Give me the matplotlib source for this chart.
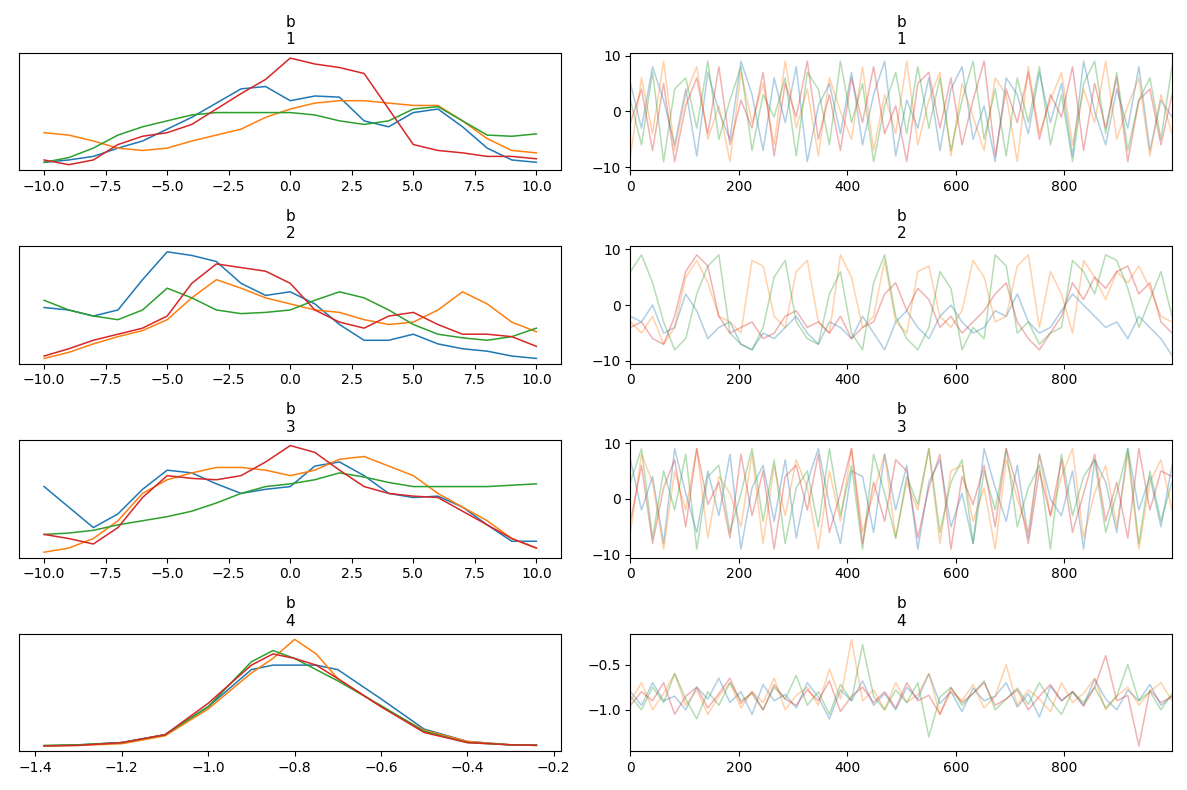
import matplotlib.pyplot as plt
import numpy as np

colors = ['C0', 'C1', 'C2', 'C3']
x_grid = np.arange(-10, 11)  # kde grid for b1..b3
x4 = [-1.38, -1.3, -1.2, -1.1, -1.0, -0.9, -0.85, -0.8, -0.75, -0.7, -0.6, -0.5, -0.4, -0.3, -0.24]

kde1 = [[0.1, 0.12, 0.15, 0.22, 0.28, 0.38, 0.48, 0.6, 0.72, 0.74, 0.62, 0.66, 0.65, 0.45, 0.4, 0.52, 0.55, 0.4, 0.22, 0.12, 0.1],
        [0.35, 0.33, 0.28, 0.22, 0.2, 0.22, 0.28, 0.33, 0.38, 0.48, 0.55, 0.6, 0.62, 0.62, 0.6, 0.58, 0.58, 0.45, 0.3, 0.2, 0.18],
        [0.1, 0.14, 0.22, 0.33, 0.4, 0.45, 0.5, 0.52, 0.52, 0.52, 0.52, 0.5, 0.45, 0.42, 0.45, 0.55, 0.57, 0.45, 0.33, 0.32, 0.34],
        [0.12, 0.08, 0.12, 0.25, 0.32, 0.35, 0.42, 0.55, 0.68, 0.8, 0.98, 0.93, 0.9, 0.85, 0.55, 0.25, 0.2, 0.18, 0.15, 0.15, 0.13]]
kde2 = [[0.52, 0.5, 0.45, 0.5, 0.75, 0.98, 0.95, 0.9, 0.72, 0.62, 0.65, 0.55, 0.38, 0.25, 0.25, 0.3, 0.22, 0.18, 0.16, 0.12, 0.1],
        [0.1, 0.15, 0.22, 0.28, 0.33, 0.42, 0.6, 0.75, 0.68, 0.6, 0.55, 0.5, 0.48, 0.42, 0.38, 0.4, 0.5, 0.65, 0.55, 0.4, 0.32],
        [0.58, 0.5, 0.45, 0.42, 0.5, 0.68, 0.6, 0.5, 0.47, 0.48, 0.5, 0.58, 0.65, 0.6, 0.5, 0.38, 0.3, 0.27, 0.25, 0.28, 0.35],
        [0.12, 0.18, 0.25, 0.3, 0.35, 0.45, 0.72, 0.88, 0.85, 0.82, 0.72, 0.5, 0.4, 0.35, 0.45, 0.48, 0.38, 0.3, 0.3, 0.28, 0.2]]
kde3 = [[0.6, 0.45, 0.3, 0.4, 0.58, 0.72, 0.7, 0.62, 0.55, 0.58, 0.6, 0.75, 0.78, 0.68, 0.55, 0.52, 0.53, 0.45, 0.32, 0.2, 0.2],
        [0.12, 0.15, 0.22, 0.35, 0.55, 0.65, 0.7, 0.74, 0.74, 0.72, 0.68, 0.72, 0.8, 0.82, 0.75, 0.68, 0.55, 0.45, 0.35, 0.22, 0.15],
        [0.25, 0.26, 0.28, 0.32, 0.35, 0.38, 0.42, 0.48, 0.55, 0.6, 0.62, 0.65, 0.7, 0.67, 0.63, 0.6, 0.6, 0.6, 0.6, 0.61, 0.62],
        [0.25, 0.22, 0.18, 0.3, 0.52, 0.68, 0.66, 0.65, 0.68, 0.78, 0.9, 0.85, 0.72, 0.6, 0.55, 0.53, 0.52, 0.42, 0.32, 0.22, 0.15]]
kde4 = [[0, 0.01, 0.03, 0.1, 0.35, 0.68, 0.72, 0.72, 0.72, 0.68, 0.42, 0.15, 0.04, 0.01, 0.01],
        [0, 0.005, 0.02, 0.09, 0.33, 0.65, 0.78, 0.95, 0.82, 0.6, 0.35, 0.14, 0.04, 0.01, 0.005],
        [0.005, 0.01, 0.03, 0.1, 0.35, 0.75, 0.85, 0.78, 0.68, 0.58, 0.36, 0.13, 0.03, 0.01, 0.005],
        [0, 0.005, 0.03, 0.1, 0.38, 0.72, 0.82, 0.78, 0.72, 0.6, 0.35, 0.12, 0.03, 0.01, 0.005]]

trace1 = [[5, -3, 8, 2, -6, 4, -8, 7, 0, -5, 9, 3, -7, 6, -2, 8, -9, 1, 5, -4, 7, -6, 3, 9, -8, 2, -3, 6, -7, 4, 8, -5, 1, -9, 6, 3, -4, 7, -2, 5, -8, 9, 0, -6, 4, -3, 8, -7, 2, -1],
          [-8, 6, -4, 9, -7, 3, 8, -5, 1, -9, 7, -2, 5, -6, 9, -3, 4, -8, 6, 0, -5, 8, -7, 3, -4, 9, -6, 2, 7, -8, 5, -1, -7, 6, 3, -9, 8, -4, 2, 7, -6, 4, -2, 9, -5, 1, 6, -8, 3, -4],
          [2, -6, 7, -9, 4, 6, -3, 9, -5, 2, 8, -7, 3, -1, 6, -8, 7, 4, -6, 9, -2, 5, -9, 1, 7, -4, 8, -3, 6, -7, 2, 9, -5, 4, -8, 6, -2, 8, -6, 3, -9, 5, 9, -4, 7, -7, 2, 6, -5, 8],
          [-2, 4, -7, 5, -9, 1, 6, -4, 8, -6, 2, -3, 7, -8, 5, -1, 9, -5, 3, -7, 6, -2, 8, -4, 1, -9, 5, 7, -3, 6, -6, 2, 9, -8, 4, -2, 7, -5, 3, -1, 8, -7, 5, -3, 6, -9, 2, 4, -6, 3]]
trace2 = [[-2, -3, 0, -5, -4, 2, -1, -6, -4, -3, -7, -8, -5, -6, -4, -2, -5, -7, -3, -4, -6, -2, -5, -8, -3, -1, -4, -6, -2, 0, -3, -5, -4, -1, -2, 2, -3, -5, -4, -1, 2, 0, -2, -4, -3, -6, -2, -4, -6, -9],
          [-3, -5, -2, -7, -4, 5, 8, 4, -2, -3, -5, 8, 7, -2, -4, 6, 8, -3, -5, 9, 5, -4, -2, 8, -3, -5, 6, 7, -2, -4, -1, 8, 5, -3, -2, 7, 9, -4, 6, 2, -5, 8, 5, 1, 6, 4, 7, 3, -2, -3],
          [6, 9, 4, -3, -8, -6, 2, 7, 9, -5, -7, -8, -4, 5, 8, -3, -6, -7, 2, 6, -5, -8, 4, 9, -2, -6, -8, -4, 6, 3, -8, -4, -6, 9, 7, -5, -3, -7, -5, -4, 8, 6, 2, 9, 8, 3, -4, 1, 6, -2],
          [-4, -3, -6, -7, -2, 6, 9, 7, -2, -5, -4, -3, -6, -5, -2, -1, -4, -3, -5, -2, -6, -4, -3, 2, 4, -1, 3, 1, -4, -2, -5, -3, -1, 2, 4, -3, -6, -8, -5, -2, 4, 1, 5, 3, 6, 7, 2, 4, -3, -5]]
trace3 = [[7, -2, 4, -8, 9, 1, -6, 5, -3, 8, -9, 2, 6, -4, 7, -7, 3, 9, -1, -8, 5, 4, -6, 8, -2, 6, -9, 3, 7, -5, 1, -8, 9, 2, -4, 6, -7, 8, 0, -3, 5, -9, 7, 3, -6, 9, -2, 4, -5, 6],
          [-6, 8, 3, -9, 5, -2, 9, -7, 4, 1, -5, 8, -8, 6, -3, 7, 2, -9, 5, -4, 9, -6, 1, 8, -7, 3, -2, 9, -8, 5, 6, -4, 2, -9, 7, 0, -6, 8, -3, 4, 9, -7, 1, 6, -5, 8, -9, 3, 7, -2],
          [3, 9, -7, 5, -2, 8, -9, 4, 6, -6, 1, 9, -4, 7, -8, 2, 5, -5, 9, -3, 6, -9, 8, 1, -7, 4, -1, 9, -6, 3, 7, -8, 5, -2, 9, -5, 2, 6, -9, 8, -3, 4, 7, -6, 1, 9, -8, 5, -4, 3],
          [-4, 6, -8, 2, 7, -5, 9, -1, 3, -7, 8, -3, 5, -9, 4, 6, -2, 8, -6, 1, 9, -8, 3, -4, 7, 5, -7, 2, 8, -9, 4, -1, 6, -5, 9, 2, -8, 5, -3, 7, -6, 1, 8, -4, 3, -7, 9, -2, 5, 4]]
trace4 = [[-0.8, -0.95, -0.7, -0.9, -0.85, -1.0, -0.75, -0.88, -0.65, -0.92, -0.8, -1.05, -0.72, -0.9, -0.83, -0.98, -0.7, -0.86, -1.1, -0.78, -0.9, -0.68, -0.95, -0.82, -1.0, -0.75, -0.88, -0.6, -0.93, -0.8, -1.02, -0.76, -0.9, -0.85, -0.7, -0.97, -0.82, -1.08, -0.74, -0.9, -0.8, -0.95, -0.66, -0.88, -1.0, -0.78, -0.9, -0.72, -0.95, -0.85],
          [-0.9, -0.7, -1.0, -0.82, -0.6, -0.95, -0.78, -1.05, -0.85, -0.7, -0.98, -0.8, -0.92, -0.65, -1.0, -0.84, -0.75, -0.95, -0.55, -0.88, -0.22, -0.9, -0.78, -1.0, -0.7, -0.92, -0.83, -0.6, -1.05, -0.8, -0.9, -0.72, -0.98, -0.85, -0.5, -0.95, -0.78, -0.88, -1.02, -0.7, -0.92, -0.82, -0.65, -1.0, -0.85, -0.75, -0.95, -0.8, -0.7, -0.9],
          [-0.85, -1.0, -0.75, -0.92, -0.6, -0.88, -1.1, -0.8, -0.95, -0.7, -0.9, -0.82, -1.0, -0.75, -0.88, -0.62, -0.95, -0.8, -1.05, -0.72, -0.9, -0.28, -0.85, -1.0, -0.78, -0.92, -0.7, -1.3, -0.86, -0.75, -0.95, -0.82, -0.68, -1.0, -0.88, -0.76, -0.94, -0.7, -0.9, -1.05, -0.8, -0.92, -0.75, -0.98, -0.85, -0.5, -0.9, -0.8, -1.0, -0.82],
          [-0.95, -0.8, -0.9, -0.7, -1.05, -0.85, -0.75, -0.98, -0.82, -0.65, -0.93, -0.8, -1.0, -0.72, -0.88, -0.95, -0.78, -0.9, -0.68, -1.02, -0.85, -0.75, -0.92, -0.8, -0.98, -0.7, -0.9, -0.84, -1.05, -0.76, -0.92, -0.82, -0.7, -0.95, -0.88, -0.78, -1.0, -0.85, -0.72, -0.9, -0.8, -0.96, -0.75, -0.4, -0.9, -0.84, -1.4, -0.78, -0.92, -0.85]]

kdes = [kde1, kde2, kde3, kde4]
traces = [trace1, trace2, trace3, trace4]
draws = np.linspace(0, 999, 50)

plt.figure(figsize=(11.87, 7.9), dpi=100)
for i in range(4):
    plt.subplot(4, 2, 2 * i + 1)
    xs = x4 if i == 3 else x_grid
    for c, ys in zip(colors, kdes[i]):
        plt.plot(xs, ys, color=c, lw=1.1)
    plt.yticks([])
    plt.title('b\n%d' % (i + 1), fontsize=11)

    plt.subplot(4, 2, 2 * i + 2)
    for c, ys in zip(colors, traces[i]):
        plt.plot(draws, ys, color=c, alpha=0.35, lw=1.1)
    plt.xlim(0, 999)
    if i < 3:
        plt.ylim(-10.5, 10.5)
    plt.title('b\n%d' % (i + 1), fontsize=11)

plt.tight_layout()
plt.savefig('out.png')
